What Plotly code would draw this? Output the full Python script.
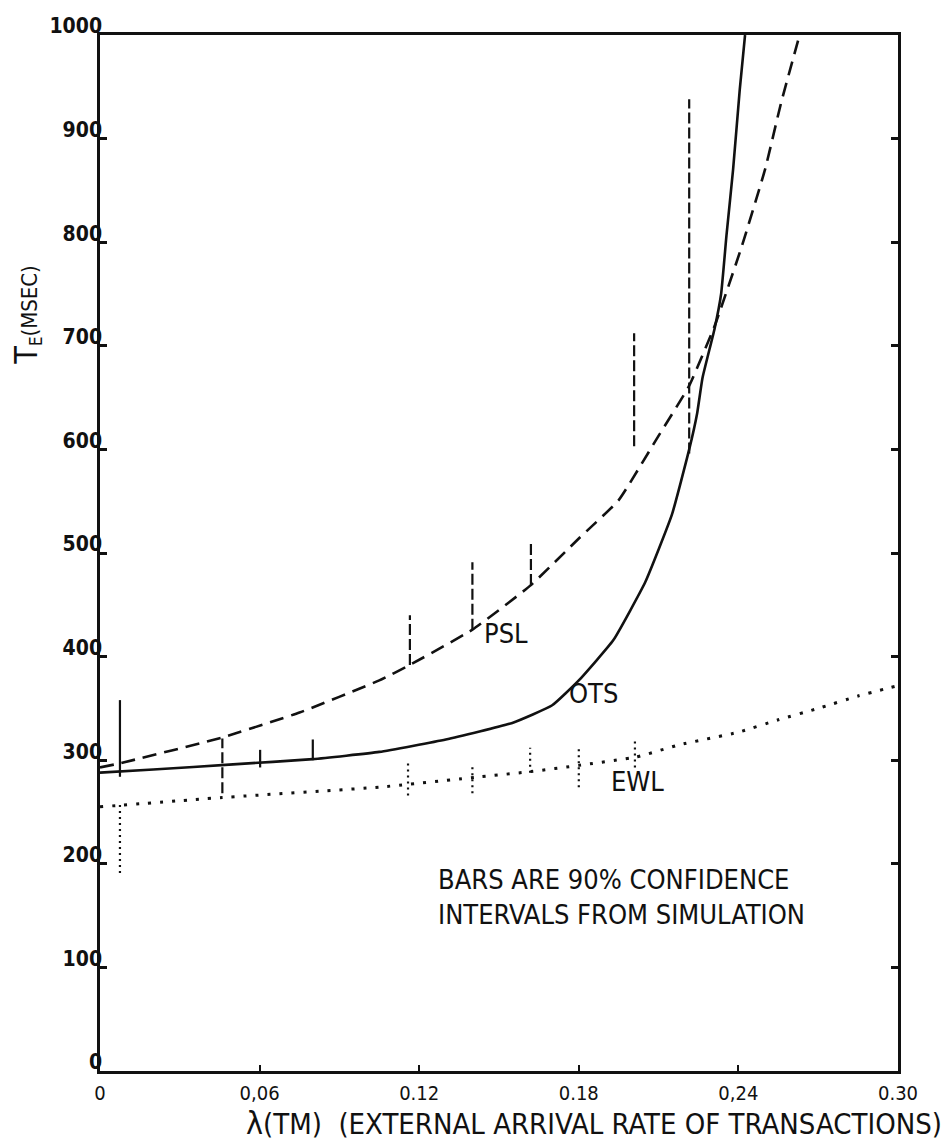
import plotly.graph_objects as go

# ---------------- data ----------------
ots_x = [0, 0.02, 0.05, 0.08, 0.105, 0.13, 0.155, 0.17, 0.18, 0.193, 0.205,
         0.215, 0.2215, 0.2245, 0.2265, 0.231, 0.2335, 0.2355, 0.238, 0.2405, 0.2425]
ots_y = [288, 291, 296, 301, 308, 320, 336, 353, 377, 416, 472,
         537, 600, 635, 669, 716, 750, 806, 870, 947, 1000]

psl_x = [0, 0.0075, 0.046, 0.075, 0.105, 0.1165, 0.14, 0.162, 0.18, 0.195,
         0.209, 0.2214, 0.2312, 0.2414, 0.25, 0.256, 0.263]
psl_y = [293, 297, 322, 346, 377, 392, 426, 469, 514, 551,
         609, 661, 720, 797, 870, 934, 1000]

ewl_x = [0, 0.046, 0.105, 0.143, 0.162, 0.18, 0.2015, 0.218, 0.24, 0.255, 0.27, 0.285, 0.30]
ewl_y = [255, 264, 274, 284, 289, 295, 303, 315, 327, 339, 350, 362, 372]

# 90% confidence interval bars from simulation
ots_bar_x = [0.0075, 0.0602, 0.0800]
ots_bar_lo = [284, 293, 300]
ots_bar_hi = [358, 310, 320]

psl_bar_x = [0.046, 0.1165, 0.140, 0.162, 0.2008, 0.2215]
psl_bar_lo = [268, 392, 426, 469, 603, 596]
psl_bar_hi = [321, 440, 491, 511, 712, 938]

ewl_bar_x = [0.0075, 0.1158, 0.140, 0.1617, 0.180, 0.2011]
ewl_bar_lo = [191, 266, 268, 288, 274, 293]
ewl_bar_hi = [259, 298, 295, 312, 313, 318]

x_tickvals = [0, 0.06, 0.12, 0.18, 0.24, 0.30]
x_ticktext = ["0", "0,06", "0.12", "0.18", "0,24", "0.30"]
y_tickvals = [0, 100, 200, 300, 400, 500, 600, 700, 800, 900, 1000]
y_ticktext = ["0", "100", "200", "300", "400", "500", "600", "700", "800", "900", "1000"]

curve_labels = ["PSL", "OTS", "EWL"]
curve_label_x = [0.1525, 0.1855, 0.2020]
curve_label_y = [422, 364, 279]

FONT = "Liberation Sans Narrow, DejaVu Sans Condensed, Roboto Condensed, Liberation Mono, monospace"
BLACK = "#111111"


def bar_segments(xs, lo, hi):
    bx, by = [], []
    for x, a, b in zip(xs, lo, hi):
        bx += [x, x, None]
        by += [a, b, None]
    return bx, by


fig = go.Figure()

fig.add_trace(go.Scatter(x=ots_x, y=ots_y, mode="lines", name="OTS",
                         line=dict(color=BLACK, width=2.6, shape="spline", smoothing=0.4)))
fig.add_trace(go.Scatter(x=psl_x, y=psl_y, mode="lines", name="PSL",
                         line=dict(color=BLACK, width=2.6, dash="14px,8px", shape="spline", smoothing=0.4)))
fig.add_trace(go.Scatter(x=ewl_x, y=ewl_y, mode="lines", name="EWL",
                         line=dict(color=BLACK, width=3, dash="3px,9px", shape="spline", smoothing=0.4)))

bx, by = bar_segments(ots_bar_x, ots_bar_lo, ots_bar_hi)
fig.add_trace(go.Scatter(x=bx, y=by, mode="lines", name="OTS bars",
                         line=dict(color=BLACK, width=2.2)))
bx, by = bar_segments(psl_bar_x, psl_bar_lo, psl_bar_hi)
fig.add_trace(go.Scatter(x=bx, y=by, mode="lines", name="PSL bars",
                         line=dict(color=BLACK, width=2.2, dash="11px,4px")))
bx, by = bar_segments(ewl_bar_x, ewl_bar_lo, ewl_bar_hi)
fig.add_trace(go.Scatter(x=bx, y=by, mode="lines", name="EWL bars",
                         line=dict(color=BLACK, width=2.2, dash="2px,4px")))

annotations = []
for t, x, y in zip(curve_labels, curve_label_x, curve_label_y):
    annotations.append(dict(x=x, y=y, xref="x", yref="y", text=t, showarrow=False,
                            font=dict(family=FONT, size=27, color=BLACK)))

annotations.append(dict(x=0.1262, y=168, xref="x", yref="y", xanchor="left", yanchor="middle",
                        align="left", showarrow=False,
                        text="BARS ARE 90% CONFIDENCE<br>INTERVALS FROM SIMULATION",
                        font=dict(family=FONT, size=27, color=BLACK)))

annotations.append(dict(x=1.0576, y=-0.0505, xref="paper", yref="paper", xanchor="right",
                        yanchor="middle", showarrow=False,
                        text="<span style='font-size:32px'>λ</span>(TM)  (EXTERNAL ARRIVAL RATE OF TRANSACTIONS)",
                        font=dict(family=FONT, size=29, color=BLACK)))

annotations.append(dict(x=-0.0915, y=0.730, xref="paper", yref="paper", textangle=-90,
                        xanchor="center", yanchor="middle", showarrow=False,
                        text="<span style='font-size:32px'>T</span><sub>E</sub><span style='font-size:22px'>(MSEC)</span>",
                        font=dict(family=FONT, size=24, color=BLACK)))

fig.update_layout(
    width=947, height=1146,
    margin=dict(l=100, r=49, t=35, b=75),
    paper_bgcolor="white", plot_bgcolor="white",
    showlegend=False,
    annotations=annotations,
    xaxis=dict(range=[0, 0.30], tickvals=x_tickvals, ticktext=x_ticktext,
               showgrid=False, zeroline=False, showline=True, linecolor=BLACK, linewidth=2.5,
               mirror=True, ticks="inside", ticklen=6, tickwidth=2, tickcolor=BLACK,
               ticklabelstandoff=2,
               tickfont=dict(family=FONT, size=20, color=BLACK), automargin=False),
    yaxis=dict(range=[0, 1000], tickvals=y_tickvals, ticktext=y_ticktext,
               showgrid=False, zeroline=False, showline=True, linecolor=BLACK, linewidth=2.5,
               mirror="ticks", ticks="inside", ticklen=7, tickwidth=2.5, tickcolor=BLACK,
               ticklabelstandoff=-9, ticklabelshift=-9,
               tickfont=dict(family=FONT, size=21, color=BLACK, weight="bold"), automargin=False),
)

fig.write_html("out.html")
